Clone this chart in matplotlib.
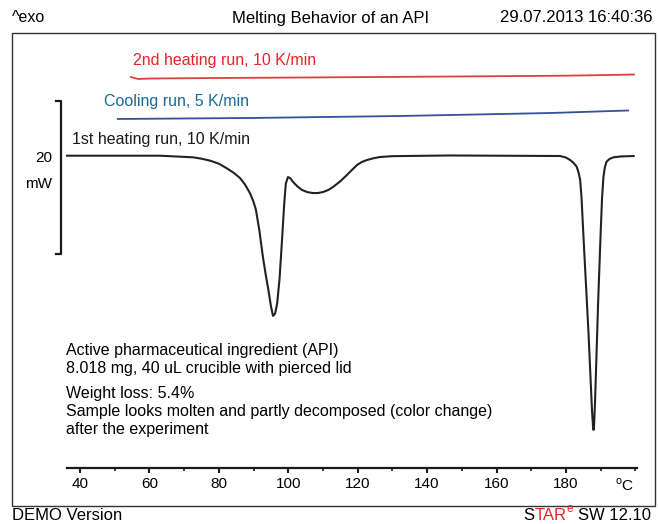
import matplotlib
matplotlib.use('Agg')
import matplotlib.pyplot as plt
from matplotlib.patches import Rectangle

plt.rcParams['font.family'] = ['Liberation Sans', 'DejaVu Sans']
plt.rcParams['mathtext.fontset'] = 'custom'
plt.rcParams['mathtext.rm'] = 'Liberation Sans'

# 1st heating run, 10 K/min  (temperature degC, heat flow mW, displayed offset)
heat1_t = [36.2, 51.5, 63.0, 72.6, 75.0, 77.5, 80.0, 82.3, 84.3, 86.1, 87.5,
           89.0, 90.0, 90.7, 91.7, 92.7, 93.5, 94.2, 95.0, 95.6, 96.2, 96.8,
           97.5, 98.2, 98.8, 99.3, 99.9, 100.6, 101.4, 102.7, 104.0, 105.5,
           107.1, 108.5, 110.0, 111.5, 112.9, 115.0, 116.9, 118.4, 119.8,
           121.2, 122.7, 124.5, 126.4, 130.0, 146.6, 178.3, 180.0, 181.2,
           182.2, 183.1, 183.6, 184.1, 184.5, 185.0, 186.5, 187.5, 187.8,
           187.95, 188.1, 188.4, 189.3, 190.0, 190.4, 190.8, 191.2, 191.7,
           192.5, 193.7, 196.0, 199.6]
heat1_mw = [0.04, 0.04, 0.04, -0.17, -0.35, -0.61, -1.0, -1.61, -2.2, -2.88,
            -3.7, -4.88, -6.0, -7.06, -9.8, -13.2, -15.5, -17.3, -19.6, -20.9,
            -20.6, -19.3, -16.0, -11.0, -6.5, -3.6, -2.75, -2.9, -3.40, -4.0,
            -4.44, -4.72, -4.84, -4.84, -4.71, -4.45, -4.05, -3.3, -2.48,
            -1.8, -1.18, -0.78, -0.52, -0.3, -0.13, -0.02, 0.07, 0.0, -0.2,
            -0.52, -0.9, -1.40, -2.1, -3.14, -5.5, -10.1, -23.1, -33.2, -35.3,
            -35.8, -35.3, -31.9, -18.8, -10.1, -5.5, -2.75, -1.5, -0.75, -0.4,
            -0.17, -0.05, 0.0]

# cooling run, 5 K/min
cool_t = [50.9, 89.0, 132.2, 175.4, 197.9]
cool_mw = [4.84, 4.97, 5.23, 5.62, 5.95]

# 2nd heating run, 10 K/min
heat2_t = [54.7, 56.7, 60.2, 80.0, 103.4, 146.6, 180.0, 199.6]
heat2_mw = [10.33, 10.07, 10.13, 10.20, 10.26, 10.39, 10.50, 10.65]

major_ticks = [40, 60, 80, 100, 120, 140, 160, 180]
minor_ticks = [50, 70, 90, 110, 130, 150, 170, 190, 200]
scale_mw = 20

note_1 = ['Active pharmaceutical ingredient (API)',
          '8.018 mg, 40 uL crucible with pierced lid']
note_2 = ['Weight loss: 5.4%',
          'Sample looks molten and partly decomposed (color change)',
          'after the experiment']

RED = '#e8232a'
BLUE_TXT = '#1b679a'
W, H = 658, 524

fig = plt.figure(figsize=(W / 100, H / 100), dpi=100)
ax = fig.add_axes([12 / W, 1 - 506 / H, 643 / W, 473 / H])
ax.set_xlim(20.41, 205.66)
ax.set_ylim(-45.75, 16.08)
ax.patch.set_alpha(0)

# outer frame
ax.add_patch(Rectangle((0, 0), 1, 1, transform=ax.transAxes, fill=False,
                       ec='#333333', lw=1.0, clip_on=False))

for s in ['top', 'left', 'right']:
    ax.spines[s].set_visible(False)
ax.spines['bottom'].set_position(('data', -40.8))
ax.spines['bottom'].set_bounds(36.3, 200.5)
ax.spines['bottom'].set_linewidth(1.6)
ax.spines['bottom'].set_color('#1a1a1a')
ax.set_yticks([])
ax.set_xticks(major_ticks)
ax.set_xticks(minor_ticks, minor=True)
ax.tick_params(axis='x', which='major', direction='out', length=3.5,
               width=1.5, color='#1a1a1a', labelsize=11, pad=3)
ax.tick_params(axis='x', which='minor', direction='out', length=2,
               width=1.2, color='#1a1a1a')
ax.text(194.0, -41.9, r'$^{\mathrm{o}}$C', fontsize=11, ha='left', va='top')

ax.plot(heat1_t, heat1_mw, color='#222222', lw=1.5, solid_capstyle='round',
        solid_joinstyle='round')
ax.plot(cool_t, cool_mw, color='#34509a', lw=1.3)
ax.plot(heat2_t, heat2_mw, color='#d8423c', lw=1.3)

ax.text(55.3, 12.55, '2nd heating run, 10 K/min', color=RED, fontsize=11.5,
        va='center', ha='left')
ax.text(46.9, 7.19, 'Cooling run, 5 K/min', color=BLUE_TXT, fontsize=11.5,
        va='center', ha='left')
ax.text(37.7, 2.22, '1st heating run, 10 K/min', color='#1a1a1a',
        fontsize=11.5, va='center', ha='left')

# scale bar
bx, btop = 34.5, 7.2
ax.plot([bx - 1.4, bx, bx, bx - 1.4], [btop, btop, btop - scale_mw, btop - scale_mw],
        color='#1a1a1a', lw=1.6, clip_on=False)
ax.text(bx - 2.6, -0.3, str(scale_mw), fontsize=11, ha='right', va='center')
ax.text(bx - 2.6, -3.6, 'mW', fontsize=11, ha='right', va='center')

# notes
for i, line in enumerate(note_1):
    ax.text(36.0, -25.4 - 2.35 * i, line, fontsize=11.5, va='center', ha='left')
for i, line in enumerate(note_2):
    ax.text(36.0, -31.0 - 2.35 * i, line, fontsize=11.5, va='center', ha='left')

# header and footer
fig.text(12 / W, 1 - 18 / H, '^exo', fontsize=11.5, va='center', ha='left')
fig.text(331 / W, 1 - 18 / H, 'Melting Behavior of an API', fontsize=12,
         va='center', ha='center')
fig.text(652 / W, 1 - 18 / H, '29.07.2013 16:40:36', fontsize=12,
         va='center', ha='right')
fig.text(12 / W, 1 - 516 / H, 'DEMO Version', fontsize=12, va='center',
         ha='left')

# "STARe SW 12.10", built right to left
t_sw = fig.text(651 / W, 1 - 516 / H, 'SW 12.10', fontsize=12, va='center',
                ha='right')
t_e = ax.annotate('e', xy=(0, 0.55), xycoords=t_sw, xytext=(-3.5, 0),
                  textcoords='offset points', va='bottom', ha='right',
                  fontsize=8.5, color=RED)
t_tar = ax.annotate('TAR', xy=(0, 0), xycoords=(t_e, t_sw), va='bottom',
                    ha='right', fontsize=12, color=RED)
ax.annotate('S', xy=(0, 0), xycoords=t_tar, va='bottom', ha='right',
            fontsize=12)

fig.savefig('out.png', dpi=100)
